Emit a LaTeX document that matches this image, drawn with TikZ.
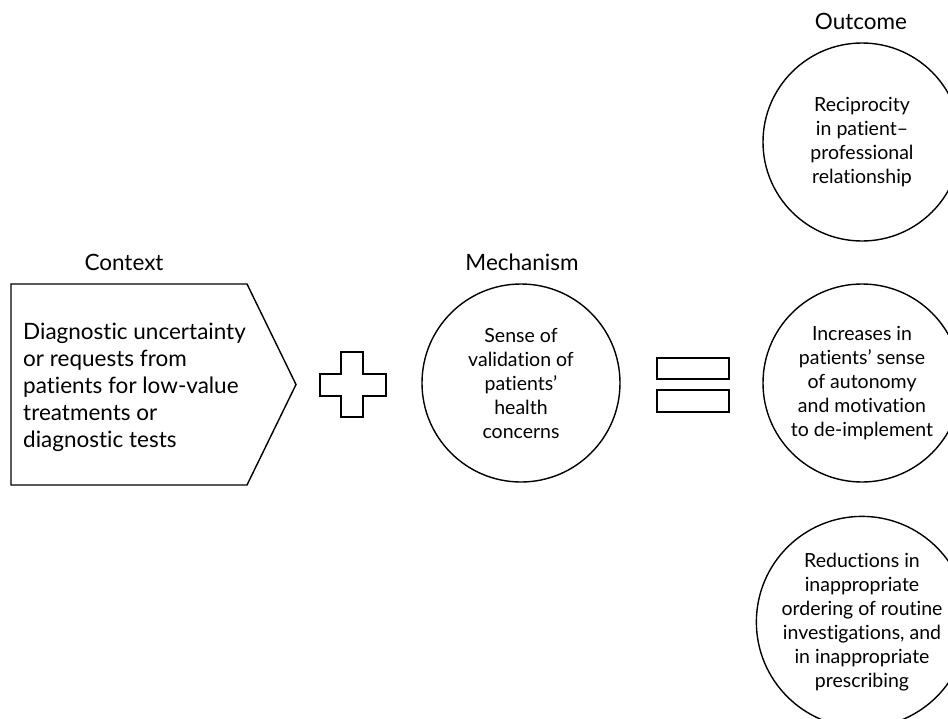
\documentclass[tikz,border=0pt]{standalone}
\usepackage{fontspec}
\setmainfont{Lato}[Ligatures=NoCommon]
\begin{document}
\begin{tikzpicture}[x=1pt,y=-1pt,
  outline/.style={draw=black,line width=1.4pt,line join=miter},
  heading/.style={font=\fontsize{22.5}{27}\selectfont},
  bubble/.style={outline,circle,minimum size=198pt,inner sep=0pt,align=center,
                 font=\fontsize{19.5}{24}\selectfont},
]
\useasboundingbox (0,0) rectangle (948,718);
\clip (0,0) rectangle (948,718);

% column headings
\node[heading] (hctx) at (124,262) {Context};
\node[heading] (hmech) at (522,262) {Mechanism};
\node[heading] (hout) at (861,21) {Outcome};

% context: arrow-shaped box
\draw[outline] (11,284) -- (247,284) -- (296,384.5) -- (247,485) -- (11,485) -- cycle;
\node[anchor=west,align=left,inner sep=0pt,
      font=\fontsize{22.5}{27}\selectfont] (ctx) at (23,387)
  {Diagnostic uncertainty\\or requests from\\patients for low-value\\treatments or\\diagnostic tests};

% plus sign
\draw[outline] (341,352) -- (363,352) -- (363,374) -- (386,374) -- (386,396)
  -- (363,396) -- (363,417) -- (341,417) -- (341,396) -- (320,396)
  -- (320,374) -- (341,374) -- cycle;

% mechanism
\node[bubble] (mech) at (521,383)
  {Sense of\\validation of\\patients’\\health\\concerns};

% equals sign
\draw[outline] (657,358) rectangle (729,379);
\draw[outline] (657,390) rectangle (729,412);

% outcomes
\node[bubble] (out1) at (862,142)
  {Reciprocity\\in patient–\\professional\\relationship};
\node[bubble] (out2) at (862,383)
  {Increases in\\patients’ sense\\of autonomy\\and motivation\\to de-implement};
\node[bubble] (out3) at (862,622)
  {Reductions in\\inappropriate\\ordering of routine\\investigations, and\\in inappropriate\\prescribing};
\end{tikzpicture}
\end{document}
